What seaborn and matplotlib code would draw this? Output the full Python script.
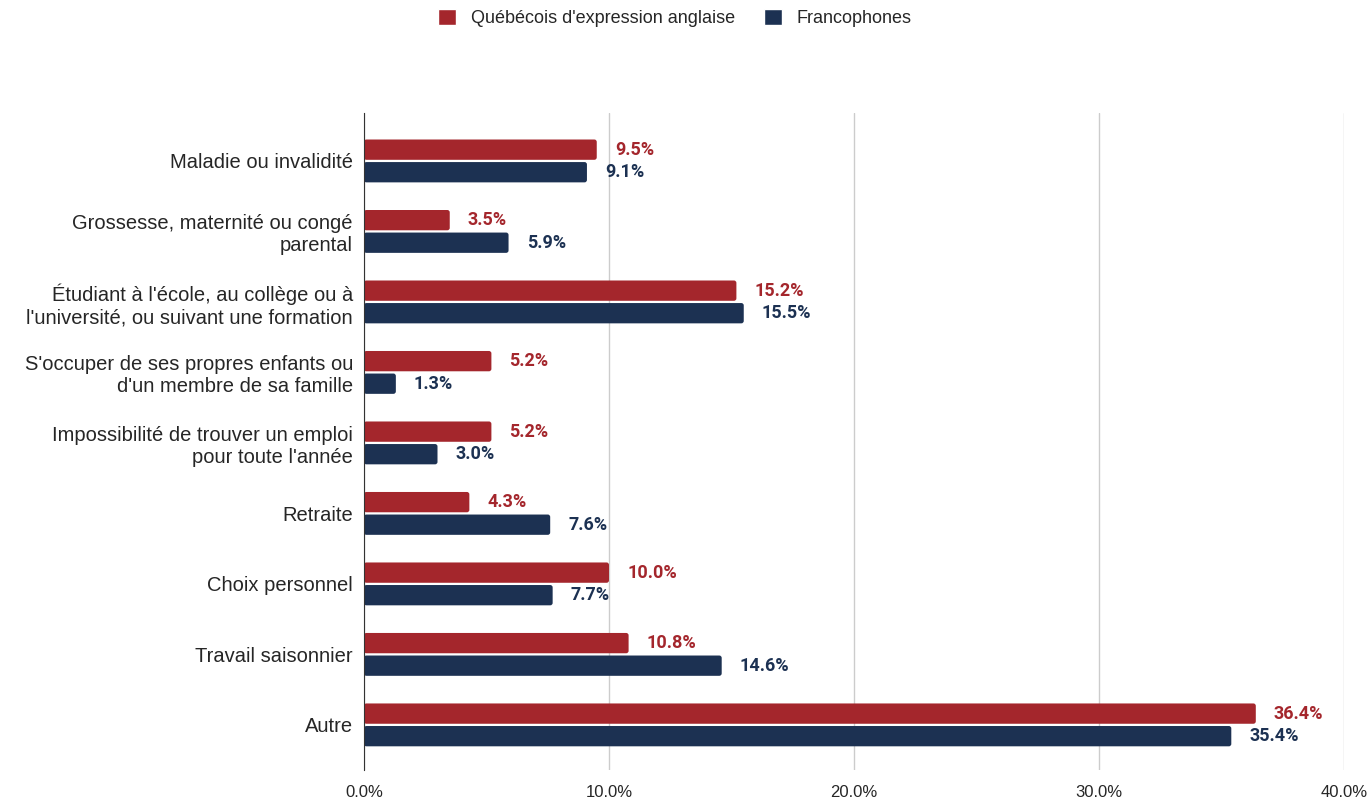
import pandas as pd
import matplotlib.pyplot as plt
from matplotlib.patches import FancyBboxPatch
import seaborn as sns

# données
categories = [
    "Maladie ou invalidité",
    "Grossesse, maternité ou congé\nparental",
    "Étudiant à l'école, au collège ou à\nl'université, ou suivant une formation",
    "S'occuper de ses propres enfants ou\nd'un membre de sa famille",
    "Impossibilité de trouver un emploi\npour toute l'année",
    "Retraite",
    "Choix personnel",
    "Travail saisonnier",
    "Autre",
]
anglo = [9.5, 3.5, 15.2, 5.2, 5.2, 4.3, 10.0, 10.8, 36.4]
franco = [9.1, 5.9, 15.5, 1.3, 3.0, 7.6, 7.7, 14.6, 35.4]
series = ["Québécois d'expression anglaise", "Francophones"]
colors = ["#A4262C", "#1C3152"]
xticks = [0, 10, 20, 30, 40]

df = pd.DataFrame({
    "cat": categories * 2,
    "val": anglo + franco,
    "groupe": [series[0]] * len(categories) + [series[1]] * len(categories),
})

sns.set_style("white")
plt.rcParams['font.family'] = ['Liberation Sans', 'DejaVu Sans']

fig = plt.figure(figsize=(13.7, 8.01), dpi=100)
ax = fig.add_axes([364 / 1370, 31 / 801, 980 / 1370, 657 / 801])

sns.barplot(data=df, y="cat", x="val", hue="groupe", orient="h",
            palette=colors, saturation=1, width=0.64, gap=0.1, ax=ax, zorder=3)

# coins arrondis
for cont in ax.containers:
    for p in cont.patches:
        x0, y0, w, h = p.get_x(), p.get_y(), p.get_width(), p.get_height()
        p.set_visible(False)
        ax.add_patch(FancyBboxPatch((x0, y0), w, h,
                                    boxstyle="round,pad=0,rounding_size=0.1",
                                    mutation_aspect=0.3475,
                                    fc=p.get_facecolor(), ec="none", zorder=3))

# étiquettes de valeurs
for cont, col in zip(ax.containers, colors):
    labels = [f"{v:.1f}%" for v in cont.datavalues]
    ax.bar_label(cont, labels=labels, padding=13, color=col,
                 fontsize=13, fontweight="bold", family=["Roboto", "DejaVu Sans"])

ax.set_xlim(0, 40)
ax.set_ylim(8.64, -0.68)
ax.set_xticks(xticks)
ax.set_xticklabels([f"{t:.1f}%" for t in xticks], fontsize=12)
ax.tick_params(axis="y", labelsize=14.5, length=0, pad=8)
ax.tick_params(axis="x", length=0, pad=11)
ax.set_xlabel("")
ax.set_ylabel("")
ax.grid(axis="x", color="#CCCCCC", linewidth=1, zorder=0)
for s in ["top", "right", "bottom"]:
    ax.spines[s].set_visible(False)
ax.spines["left"].set_color("#333333")
ax.spines["left"].set_zorder(4)
for lab in ax.get_yticklabels():
    lab.set_multialignment("right")
    lab.set_linespacing(1.2)

ax.legend(loc="center", bbox_to_anchor=(0.317, 1.145),
          ncol=2, frameon=False, fontsize=13, handlelength=1.0, handleheight=1.0,
          columnspacing=1.6, handletextpad=0.8)

fig.savefig("out.png", dpi=100)
